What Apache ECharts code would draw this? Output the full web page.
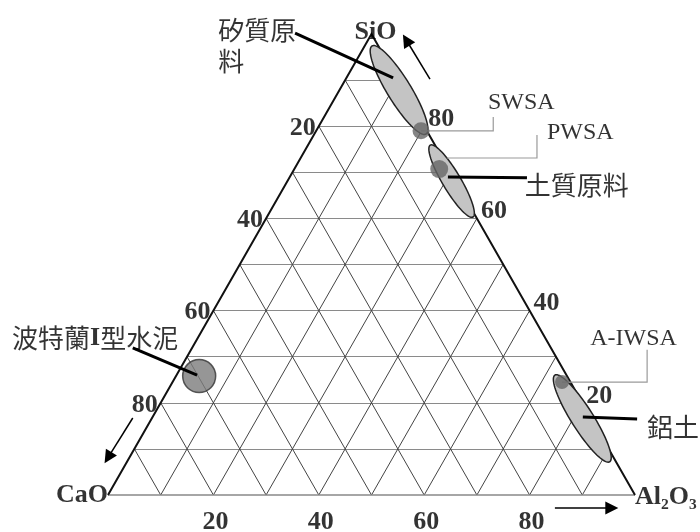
<!DOCTYPE html>
<html><head><meta charset="utf-8">
<script src="https://cdn.jsdelivr.net/npm/echarts@6/dist/echarts.min.js"></script>
<style>html,body{margin:0;padding:0;background:#fff}#c{width:700px;height:532px}</style>
</head><body><div id="c"></div>
<script>
// ---------------- DATA ----------------
const vertexNames = ['CaO', 'SiO', 'Al₂O₃'];
const gridTicks = [10, 20, 30, 40, 50, 60, 70, 80, 90];
const labelTicks = [20, 40, 60, 80];

// sample points [CaO, SiO2, Al2O3] (%)
const pointNames = ['SWSA', 'PWSA', 'A-IWSA', '波特蘭I型水泥'];
const pointCaO   = [1.1, 1.8, 1.6, 69.8];
const pointSiO2  = [79.0, 70.7, 24.5, 25.8];
const pointAl2O3 = [19.9, 27.5, 73.9, 4.4];

// raw-material composition regions (ellipses): two ends + half width (% CaO)
const regionNames      = ['矽質原料', '土質原料', '鋁土'];
const regionStartCaO   = [1.2, 0.9, 2.2];
const regionStartSiO2  = [97.4, 75.9, 26.0];
const regionStartAl2O3 = [1.4, 23.2, 71.8];
const regionEndCaO     = [0.5, 0.6, 1.2];
const regionEndSiO2    = [78.3, 60.3, 7.2];
const regionEndAl2O3   = [21.2, 39.1, 91.6];
const regionHalfWidth  = [2.6, 2.0, 2.4];

// ---------------- HELPERS ----------------
function tern(ca, si, al) {
  const s = ca + si + al;
  si = si / s * 100; al = al / s * 100;
  return [al + si / 2, si];
}
const SERIF = "'Liberation Serif','DejaVu Serif','Times New Roman',serif";
const CJK = "'Noto Sans CJK TC','Noto Sans CJK SC',sans-serif";

// ---------------- LAYOUT (plot coordinates, annotation only) ----------------
const pts = pointNames.map((n, i) => tern(pointCaO[i], pointSiO2[i], pointAl2O3[i]));
const pointSizes = [17, 18, 14, 33];

const blackLeaders = [
  [[35.5, 100.2], [54.1, 90.5]],   // 矽質原料
  [[64.5, 69.0], [79.5, 68.8]],    // 土質原料
  [[90.1, 16.9], [100.4, 16.5]],   // 鋁土
  [[4.7, 31.9], [16.9, 26.0]]      // 波特蘭
];
const grayLeaders = [
  [pts[0], [73.1, pts[0][1]], [73.1, 82.0]],
  [[64.3, 73.1], [81.4, 73.1], [81.4, 78.1]],
  [pts[2], [102.3, pts[2][1]], [102.3, 31.5]]
];
const arrows = [
  [[61.1, 90.2], [56.6, 98.7]],
  [[4.7, 16.7], [0.0, 8.1]],
  [[84.8, -2.8], [95.6, -2.8]]
];

// grid lines
const hLines = gridTicks.map(k => ({coords: [[k / 2, k], [100 - k / 2, k]]}));
const dLines = [];
gridTicks.forEach(k => {
  dLines.push({coords: [[100 - k, 0], [(100 - k) / 2, 100 - k]]});
  dLines.push({coords: [[k, 0], [k + (100 - k) / 2, 100 - k]]});
});

function textItem(xy, text, opts) {
  return {value: xy, label: Object.assign({show: true, formatter: text, position: 'inside',
    color: '#000', align: 'left', verticalAlign: 'middle'}, opts)};
}

const textData = [];
labelTicks.forEach(v => {
  const base = {fontFamily: SERIF, fontWeight: 'bold', fontSize: 26};
  textData.push(textItem([(100 - v) / 2, 100 - v], String(v), Object.assign({align: 'right', offset: [-3, 2]}, base)));
  textData.push(textItem([100 - v / 2, v], String(v), Object.assign({align: 'left', offset: [4, -7]}, base)));
  textData.push(textItem([v, 0], String(v), Object.assign({align: 'center', offset: [2, 27]}, base)));
});
// vertex labels
textData.push(textItem([50, 100], vertexNames[1], {fontFamily: SERIF, fontWeight: 'bold', fontSize: 26, align: 'center', offset: [4, -2]}));
textData.push(textItem([0, 0], vertexNames[0], {fontFamily: SERIF, fontWeight: 'bold', fontSize: 26, align: 'right', offset: [0, 0]}));
textData.push(textItem([100, 0], vertexNames[2], {fontFamily: SERIF, fontWeight: 'bold', fontSize: 26, align: 'left', offset: [0, 2]}));
// annotation texts
const annFont = {fontFamily: SERIF, fontSize: 24};
textData.push(textItem([72.1, 85.0], pointNames[0], annFont));
textData.push(textItem([83.3, 78.5], pointNames[1], annFont));
textData.push(textItem([91.5, 33.8], pointNames[2], annFont));
const cjkFont = {fontFamily: CJK, fontSize: 26};
textData.push(textItem([20.9, 97.5], '矽質原\n料', Object.assign({lineHeight: 31}, cjkFont)));
textData.push(textItem([79.1, 67.3], regionNames[1], cjkFont));
textData.push(textItem([102.3, 14.8], regionNames[2], cjkFont));
textData.push(textItem([-18.2, 34.1], '{c|波特蘭}{i|I}{c|型水泥}', {
  rich: {c: {fontFamily: CJK, fontSize: 26, color: '#000'}, i: {fontFamily: SERIF, fontWeight: 'bold', fontSize: 26, color: '#000'}}
}));

const ellipseData = regionNames.map((n, i) => {
  const a = tern(regionStartCaO[i], regionStartSiO2[i], regionStartAl2O3[i]);
  const b = tern(regionEndCaO[i], regionEndSiO2[i], regionEndAl2O3[i]);
  return {name: n, value: [a[0], a[1], b[0], b[1], regionHalfWidth[i]]};
});

function renderEllipse(params, api) {
  const p1 = api.coord([api.value(0), api.value(1)]);
  const p2 = api.coord([api.value(2), api.value(3)]);
  const A = api.coord([0, 0]), B = api.coord([100, 0]), C = api.coord([50, 100]);
  const ex = C[0] - B[0], ey = C[1] - B[1];
  const h = Math.abs(ex * (A[1] - B[1]) - ey * (A[0] - B[0])) / Math.hypot(ex, ey);
  const cx = (p1[0] + p2[0]) / 2, cy = (p1[1] + p2[1]) / 2;
  const a = Math.hypot(p2[0] - p1[0], p2[1] - p1[1]) / 2;
  const b = api.value(4) * h / 100;
  const th = Math.atan2(p2[1] - p1[1], p2[0] - p1[0]);
  const points = [];
  for (let t = 0; t < 96; t++) {
    const u = t / 96 * Math.PI * 2;
    const lx = a * Math.cos(u), ly = b * Math.sin(u);
    points.push([cx + lx * Math.cos(th) - ly * Math.sin(th), cy + lx * Math.sin(th) + ly * Math.cos(th)]);
  }
  return {type: 'polygon', shape: {points}, style: {fill: '#c4c4c4', stroke: '#222', lineWidth: 1.5}};
}

const chart = echarts.init(document.getElementById('c'), null, {renderer: 'canvas'});
chart.setOption({
  animation: false,
  backgroundColor: '#fff',
  grid: {left: 108, right: 65, top: 34, bottom: 37, outerBoundsMode: 'none'},
  xAxis: {type: 'value', min: 0, max: 100, show: false},
  yAxis: {type: 'value', min: 0, max: 100, show: false},
  series: [
    {type: 'lines', coordinateSystem: 'cartesian2d', z: 1, silent: true, clip: false,
     lineStyle: {color: '#8a8a8a', width: 1.2, opacity: 1}, data: hLines},
    {type: 'lines', coordinateSystem: 'cartesian2d', z: 1, silent: true, clip: false,
     lineStyle: {color: '#444', width: 1, opacity: 1}, data: dLines},
    {type: 'lines', coordinateSystem: 'cartesian2d', z: 1, silent: true, clip: false,
     lineStyle: {color: '#888', width: 1.5, opacity: 1}, data: [{coords: [[0, 0], [100, 0]]}]},
    {type: 'lines', coordinateSystem: 'cartesian2d', z: 2, silent: true, clip: false, polyline: true,
     lineStyle: {color: '#111', width: 2, opacity: 1}, data: [{coords: [[0, 0], [50, 100], [100, 0]]}]},
    {type: 'custom', coordinateSystem: 'cartesian2d', z: 3, silent: true, clip: false,
     renderItem: renderEllipse, encode: {x: [0, 2], y: [1, 3]}, data: ellipseData},
    {type: 'lines', coordinateSystem: 'cartesian2d', z: 4, silent: true, clip: false, polyline: true,
     lineStyle: {color: '#9a9a9a', width: 1.2, opacity: 1}, data: grayLeaders.map(c => ({coords: c}))},
    {type: 'scatter', z: 5, silent: true, clip: false,
     data: pts.map((p, i) => ({name: pointNames[i], value: p, symbolSize: pointSizes[i],
       itemStyle: i === 3 ? {color: '#7c7c7c', borderColor: '#333', borderWidth: 1.5} : {color: '#666'}}))},
    {type: 'lines', coordinateSystem: 'cartesian2d', z: 6, silent: true, clip: false,
     lineStyle: {color: '#000', width: 3, opacity: 1}, data: blackLeaders.map(c => ({coords: c}))},
    {type: 'lines', coordinateSystem: 'cartesian2d', z: 6, silent: true, clip: false,
     symbol: ['none', 'triangle'], symbolSize: 13,
     lineStyle: {color: '#000', width: 1.5, opacity: 1}, itemStyle: {color: '#000'},
     data: arrows.map(c => ({coords: c}))},
    {type: 'scatter', z: 7, silent: true, clip: false, symbolSize: 1,
     itemStyle: {color: 'transparent'}, data: textData}
  ]
});
</script></body></html>
